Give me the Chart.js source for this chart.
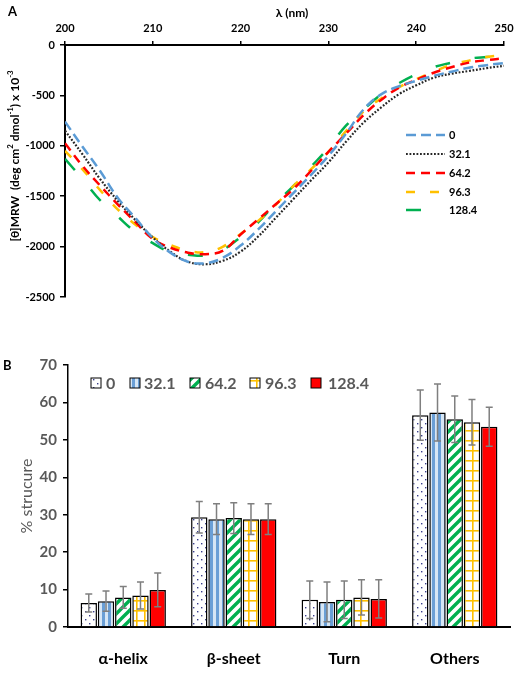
<!DOCTYPE html>
<html lang="en">
<head>
<meta charset="UTF-8">
<title>CD spectra and secondary structure</title>
<script src="https://cdn.jsdelivr.net/npm/chart.js"></script>
<style>
  body { margin: 0; background: #fff; }
  .wrap { position: relative; width: 522px; height: 675px; }
  #cd { position: absolute; left: 0; top: 0; }
  #bars { position: absolute; left: 0; top: 310px; }
</style>
</head>
<body>
<div class="wrap">
  <canvas id="cd" width="522" height="310"></canvas>
  <canvas id="bars" width="522" height="365"></canvas>
</div>
<script>
  // Panel A: CD spectra, every 2 nm
  const wavelengths = [200, 202, 204, 206, 208, 210, 212, 214, 216, 218, 220, 222, 224,
                       226, 228, 230, 232, 234, 236, 238, 240, 242, 244, 246, 248, 250];
  const cd0   = [-760, -1010, -1250, -1515, -1715, -1915, -2060, -2150, -2165, -2110, -1990, -1830, -1650,
                 -1470, -1290, -1100, -880, -640, -490, -410, -355, -305, -265, -225, -200, -180];
  const cd32  = [-850, -1085, -1330, -1545, -1735, -1910, -2050, -2150, -2175, -2140, -2050, -1900, -1715,
                 -1530, -1345, -1165, -960, -770, -620, -490, -400, -325, -285, -258, -230, -206];
  const cd64  = [-975, -1200, -1395, -1580, -1755, -1925, -2010, -2060, -2075, -2040, -1880, -1730, -1580,
                 -1430, -1250, -1060, -880, -696, -545, -425, -345, -275, -220, -175, -150, -132];
  const cd96  = [-1050, -1235, -1440, -1630, -1780, -1905, -1985, -2040, -2055, -2000, -1875, -1745, -1585,
                 -1400, -1235, -1060, -855, -660, -530, -420, -340, -265, -195, -155, -120, -100];
  const cd128 = [-1130, -1330, -1540, -1700, -1855, -1965, -2055, -2080, -2088, -2030, -1905, -1760, -1570,
                 -1400, -1210, -1020, -800, -640, -490, -380, -290, -220, -175, -135, -120, -110];

  // Panel B: % secondary structure with error bars
  const doses = ['0', '32.1', '64.2', '96.3', '128.4'];
  const structures = ['α-helix', 'β-sheet', 'Turn', 'Others'];
  const pct0   = [6.4, 29.3, 7.3, 56.6];
  const pct32  = [6.9, 28.8, 6.7, 57.3];
  const pct64  = [7.9, 29.1, 7.3, 55.5];
  const pct96  = [8.4, 28.8, 7.9, 54.7];
  const pct128 = [9.9, 28.8, 7.5, 53.5];
  const err0   = [2.4, 4.2, 5.0, 6.7];
  const err32  = [2.7, 4.1, 5.3, 7.6];
  const err64  = [2.9, 4.1, 5.0, 6.2];
  const err96  = [3.6, 4.1, 4.7, 6.1];
  const err128 = [4.5, 4.1, 5.1, 5.2];

  const FONT = 'Lato, "Open Sans", sans-serif';
  const GREY = '#595959';
  Chart.defaults.font.family = FONT;

  const points = arr => wavelengths.map((w, i) => ({ x: w, y: arr[i] }));

  function lineSet(label, arr, color, dash, width) {
    return {
      label: label, data: points(arr), borderColor: color, borderDash: dash,
      borderWidth: width, pointRadius: 0, tension: 0.4, fill: false
    };
  }

  // rotated text with superscripts
  function richVertical(ctx, parts, cx, cy, size) {
    ctx.save();
    ctx.translate(cx, cy);
    ctx.rotate(-Math.PI / 2);
    ctx.textBaseline = 'middle';
    ctx.fillStyle = '#000';
    let total = 0;
    parts.forEach(p => {
      ctx.font = 'bold ' + (p[1] ? size * 0.65 : size) + 'px ' + FONT;
      total += ctx.measureText(p[0]).width;
    });
    let x = -total / 2;
    parts.forEach(p => {
      ctx.font = 'bold ' + (p[1] ? size * 0.65 : size) + 'px ' + FONT;
      ctx.fillText(p[0], x, p[1] ? -size * 0.35 : 0);
      x += ctx.measureText(p[0]).width;
    });
    ctx.restore();
  }

  const cdDecor = {
    id: 'cdDecor',
    afterDraw(chart) {
      const ctx = chart.ctx;
      ctx.save();
      ctx.fillStyle = '#000';
      ctx.font = 'bold 13px ' + FONT;
      ctx.textAlign = 'left';
      ctx.textBaseline = 'middle';
      ctx.fillText('A', 8, 12);
      ctx.font = 'bold 12px ' + FONT;
      ctx.textAlign = 'center';
      ctx.fillText('λ (nm)', 292, 13);

      // legend
      const rows = [135, 154, 173, 192, 210];
      chart.data.datasets.forEach((ds, i) => {
        const y = rows[i];
        ctx.beginPath();
        ctx.setLineDash(ds.borderDash);
        ctx.lineWidth = ds.borderWidth;
        ctx.strokeStyle = ds.borderColor;
        ctx.moveTo(406, y);
        ctx.lineTo(445, y);
        ctx.stroke();
        ctx.setLineDash([]);
        ctx.fillStyle = '#000';
        ctx.font = 'bold 11px ' + FONT;
        ctx.textAlign = 'left';
        ctx.fillText(ds.label, 449, y);
      });
      ctx.restore();

      richVertical(ctx, [['[θ]MRW  (deg cm', 0], ['2', 1], [' dmol', 0], ['-1', 1],
                         [') x 10', 0], ['-3', 1]], 15, 156, 12);
    }
  };

  new Chart(document.getElementById('cd'), {
    type: 'line',
    data: {
      datasets: [
        lineSet('0', cd0, '#5b9bd5', [10, 5], 2.5),
        lineSet('32.1', cd32, '#262626', [1.8, 1.7], 2.2),
        lineSet('64.2', cd64, '#ff0000', [9, 6], 2.5),
        lineSet('96.3', cd96, '#ffc000', [9, 15], 2.5),
        lineSet('128.4', cd128, '#00b050', [15, 25], 2.5)
      ]
    },
    options: {
      responsive: false,
      animation: false,
      layout: { padding: { left: 0, top: 0, right: 18, bottom: 13 } },
      plugins: { legend: { display: false }, tooltip: { enabled: false } },
      scales: {
        x: {
          type: 'linear', position: 'top', min: 200, max: 250,
          afterFit: s => { s.height = 45; },
          border: { color: '#000', width: 2 },
          grid: { drawOnChartArea: false, color: '#000', lineWidth: 1.5, tickLength: 4 },
          ticks: { stepSize: 10, color: '#000', padding: 6, font: { size: 11, weight: 'bold' } }
        },
        y: {
          min: -2500, max: 0,
          afterFit: s => { s.width = 65; },
          border: { color: '#000', width: 2 },
          grid: { drawOnChartArea: false, color: '#000', lineWidth: 1.5, tickLength: 5 },
          ticks: {
            stepSize: 500, color: '#000', padding: 5, font: { size: 11, weight: 'bold' },
            callback: v => String(v)
          }
        }
      }
    },
    plugins: [cdDecor]
  });

  // fill patterns for the bars
  function makePattern(kind) {
    const c = document.createElement('canvas');
    let g;
    if (kind === 'dots') {
      c.width = 8; c.height = 8; g = c.getContext('2d');
      g.fillStyle = '#fff'; g.fillRect(0, 0, 8, 8);
      g.fillStyle = '#3a3f8c';
      g.fillRect(1, 1, 1.4, 1.4); g.fillRect(5, 5, 1.4, 1.4);
    } else if (kind === 'vstripe') {
      c.width = 6; c.height = 6; g = c.getContext('2d');
      g.fillStyle = '#d6e6f5'; g.fillRect(0, 0, 6, 6);
      g.fillStyle = '#6a9fd6'; g.fillRect(0, 0, 3, 6);
    } else if (kind === 'diag') {
      c.width = 10; c.height = 10; g = c.getContext('2d');
      g.fillStyle = '#fff'; g.fillRect(0, 0, 10, 10);
      g.strokeStyle = '#00b050'; g.lineWidth = 3.4;
      g.beginPath();
      g.moveTo(0, 10); g.lineTo(10, 0);
      g.moveTo(-3, 3); g.lineTo(3, -3);
      g.moveTo(7, 13); g.lineTo(13, 7);
      g.stroke();
    } else if (kind === 'grid') {
      c.width = 8; c.height = 10; g = c.getContext('2d');
      g.fillStyle = '#fff'; g.fillRect(0, 0, 8, 10);
      g.fillStyle = '#ffc000';
      g.fillRect(0, 0, 1.6, 10); g.fillRect(0, 0, 8, 1.6);
    }
    return g.createPattern(c, 'repeat');
  }

  const fills = [makePattern('dots'), makePattern('vstripe'), makePattern('diag'), makePattern('grid'), '#ff0000'];
  const pctSets = [pct0, pct32, pct64, pct96, pct128];
  const errSets = [err0, err32, err64, err96, err128];

  const barDecor = {
    id: 'barDecor',
    afterDatasetsDraw(chart) {
      const ctx = chart.ctx;
      const ys = chart.scales.y;
      ctx.save();
      ctx.strokeStyle = '#7f7f7f';
      ctx.lineWidth = 1.5;
      chart.data.datasets.forEach((ds, i) => {
        const meta = chart.getDatasetMeta(i);
        meta.data.forEach((bar, j) => {
          const v = ds.data[j], e = errSets[i][j];
          const t = ys.getPixelForValue(v + e), b = ys.getPixelForValue(v - e);
          ctx.beginPath();
          ctx.moveTo(bar.x, t); ctx.lineTo(bar.x, b);
          ctx.moveTo(bar.x - 3.5, t); ctx.lineTo(bar.x + 3.5, t);
          ctx.moveTo(bar.x - 3.5, b); ctx.lineTo(bar.x + 3.5, b);
          ctx.stroke();
        });
      });
      ctx.restore();
    },
    afterDraw(chart) {
      const ctx = chart.ctx;
      ctx.save();
      ctx.fillStyle = '#000';
      ctx.font = 'bold 13px ' + FONT;
      ctx.textBaseline = 'middle';
      ctx.fillText('B', 3, 56);

      // legend
      const boxX = [91, 130, 190, 250, 311];
      const textX = [106, 144, 205, 265, 328];
      ctx.font = 'bold 16px ' + FONT;
      doses.forEach((d, i) => {
        ctx.fillStyle = fills[i];
        ctx.fillRect(boxX[i], 68, 10, 10);
        ctx.strokeStyle = '#000';
        ctx.lineWidth = 1;
        ctx.strokeRect(boxX[i], 68, 10, 10);
        ctx.fillStyle = GREY;
        ctx.fillText(d, textX[i], 73.5);
      });

      // axis title
      ctx.translate(27, 186);
      ctx.rotate(-Math.PI / 2);
      ctx.textAlign = 'center';
      ctx.font = '16px ' + FONT;
      ctx.fillStyle = GREY;
      ctx.fillText('% strucure', 0, 0);
      ctx.restore();
    }
  };

  new Chart(document.getElementById('bars'), {
    type: 'bar',
    data: {
      labels: structures,
      datasets: doses.map((d, i) => ({
        label: d, data: pctSets[i], backgroundColor: fills[i],
        borderColor: '#000', borderWidth: 1.5,
        categoryPercentage: 0.78, barPercentage: 0.95
      }))
    },
    options: {
      responsive: false,
      animation: false,
      layout: { padding: { left: 0, top: 55, right: 12, bottom: 0 } },
      plugins: { legend: { display: false }, tooltip: { enabled: false } },
      scales: {
        x: {
          afterFit: s => { s.height = 48; },
          border: { color: '#000', width: 2 },
          grid: { display: false },
          ticks: { color: '#000', padding: 14, font: { size: 16, weight: 'bold' } }
        },
        y: {
          min: 0, max: 70,
          afterFit: s => { s.width = 68; },
          border: { color: '#000', width: 1.5 },
          grid: { drawOnChartArea: false, color: '#000', lineWidth: 1.5, tickLength: 5 },
          ticks: { stepSize: 10, color: GREY, padding: 6, font: { size: 15, weight: 'bold' } }
        }
      }
    },
    plugins: [barDecor]
  });
</script>
</body>
</html>
